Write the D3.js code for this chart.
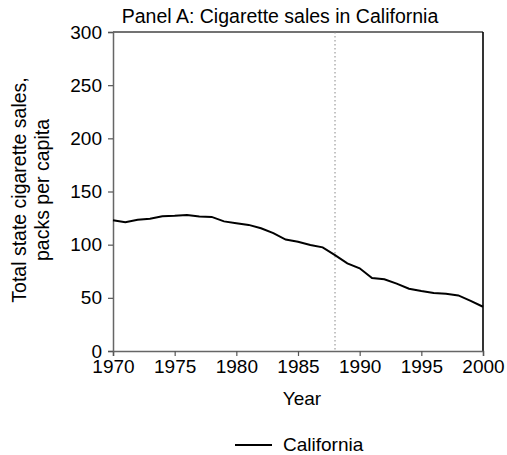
<!DOCTYPE html>
<html>
<head>
<meta charset="utf-8">
<script src="https://cdn.jsdelivr.net/npm/d3@7"></script>
<style>
  body { margin: 0; background: #fff; }
  text { font-family: "Liberation Sans", Arial, sans-serif; fill: #000; }
</style>
</head>
<body>
<div id="container"></div>
<script>
/* DATA */
const years = d3.range(1970, 2001);
const sales = [123, 121, 123.5, 124.4, 126.7, 127.1, 128, 126.4, 126.1, 121.9,
  120.2, 118.6, 115.4, 110.8, 104.8, 102.8, 99.7, 97.5, 90.1, 82.4,
  77.8, 68.7, 67.5, 63.4, 58.6, 56.4, 54.5, 53.8, 52.3, 47.2, 41.6];
const xTicks = [1970, 1975, 1980, 1985, 1990, 1995, 2000];
const yTicks = [0, 50, 100, 150, 200, 250, 300];
const treatYear = 1988;

/* CONSTANTS */
const width = 507, height = 455,
  margin = { top: 32, bottom: 104, left: 113, right: 24 };

const svg = d3.select("#container")
  .append("svg")
  .attr("width", width)
  .attr("height", height);

/* SCALES */
const xScale = d3.scaleLinear()
  .domain([1970, 2000])
  .range([margin.left, width - margin.right]);

const yScale = d3.scaleLinear()
  .domain([0, 300])
  .range([height - margin.bottom, margin.top]);

// frame: top dark grey, right black
svg.append("line")
  .attr("x1", margin.left).attr("x2", width - margin.right)
  .attr("y1", margin.top).attr("y2", margin.top)
  .attr("stroke", "#444").attr("stroke-width", 1.5);
svg.append("line")
  .attr("x1", width - margin.right).attr("x2", width - margin.right)
  .attr("y1", margin.top).attr("y2", height - margin.bottom)
  .attr("stroke", "#000").attr("stroke-width", 1.6);

// axes
const xAxis = svg.append("g")
  .attr("transform", `translate(0,${height - margin.bottom})`)
  .call(d3.axisBottom(xScale).tickValues(xTicks).tickFormat(d3.format("d")).tickSizeOuter(0).tickSize(5).tickPadding(4));
const yAxis = svg.append("g")
  .attr("transform", `translate(${margin.left},0)`)
  .call(d3.axisLeft(yScale).tickValues(yTicks).tickSizeOuter(0).tickSize(5).tickPadding(6));

[xAxis, yAxis].forEach(g => {
  g.select(".domain").attr("stroke", "#666").attr("stroke-width", 1.5);
  g.selectAll(".tick line").attr("stroke", "#555").attr("stroke-width", 1.2);
  g.selectAll(".tick text").style("font-size", "19px").attr("fill", "#000");
});

// treatment year
svg.append("line")
  .attr("x1", xScale(treatYear)).attr("x2", xScale(treatYear))
  .attr("y1", margin.top).attr("y2", height - margin.bottom)
  .attr("stroke", "#888").attr("stroke-width", 1)
  .attr("stroke-dasharray", "1.5,2.5");

// line
const line = d3.line()
  .x((d, i) => xScale(years[i]))
  .y(d => yScale(d));

svg.append("path")
  .datum(sales)
  .attr("fill", "none")
  .attr("stroke", "#000")
  .attr("stroke-width", 2)
  .attr("d", line);

// labels
svg.append("text")
  .attr("x", 280)
  .attr("y", 23)
  .attr("text-anchor", "middle")
  .style("font-size", "19.5px")
  .text("Panel A: Cigarette sales in California");

svg.append("text")
  .attr("x", 302)
  .attr("y", 405)
  .attr("text-anchor", "middle")
  .style("font-size", "19px")
  .text("Year");

const yl = svg.append("text")
  .attr("transform", `translate(26,190) rotate(-90)`)
  .attr("text-anchor", "middle")
  .style("font-size", "19.5px");
yl.append("tspan").attr("x", 0).attr("dy", 0).text("Total state cigarette sales,");
yl.append("tspan").attr("x", 0).attr("dy", 23).text("packs per capita");

// legend
svg.append("line")
  .attr("x1", 235).attr("x2", 272)
  .attr("y1", 445).attr("y2", 445)
  .attr("stroke", "#000").attr("stroke-width", 2);
svg.append("text")
  .attr("x", 283).attr("y", 451)
  .style("font-size", "19px")
  .text("California");
</script>
</body>
</html>
